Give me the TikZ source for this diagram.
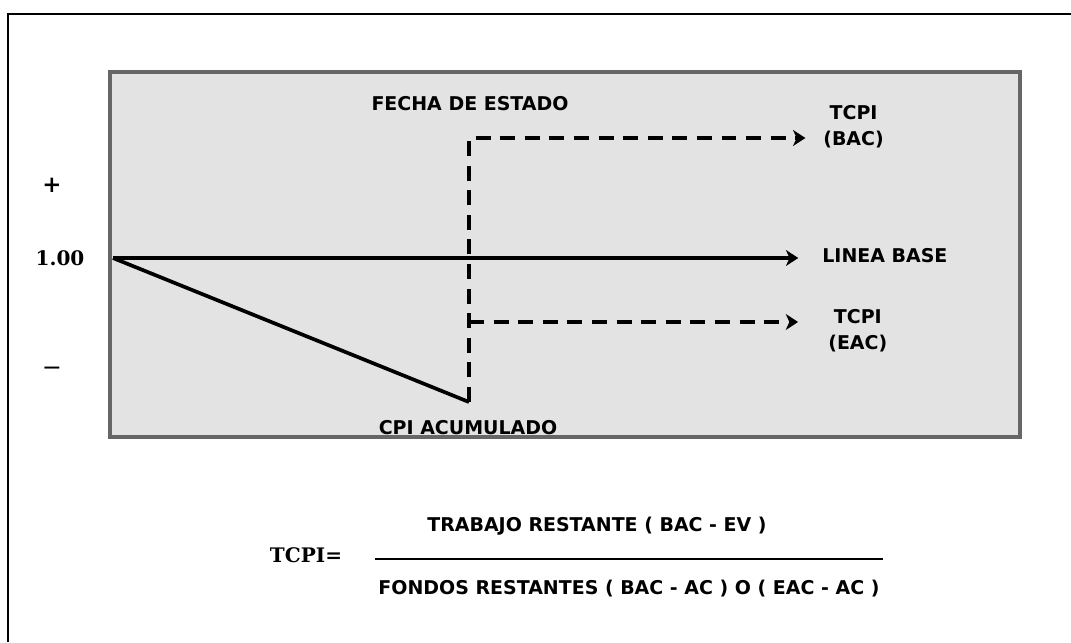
\documentclass[tikz,border=0pt]{standalone}
\usepackage{fontspec}
\setmainfont{DejaVu Sans}
\newfontfamily\valuefont{DejaVu Serif}
\usepackage{tikz}
\usetikzlibrary{arrows.meta,positioning}

\begin{document}
\begin{tikzpicture}[x=0.02cm, y=-0.02cm,
        font=\bfseries\fontsize{10.8}{15}\selectfont,
        >={Stealth[length=7pt,width=9pt,inset=2pt]},
        label/.style={inner sep=0pt, align=center},
        value/.style={inner sep=0pt,
            font=\valuefont\bfseries\fontsize{11.4}{14}\selectfont},
        solidline/.style={line width=2.1pt},
        dashline/.style={line width=1.9pt, dash pattern=on 8.5pt off 5.5pt},
        area/.style={fill=black!11, draw=black!60, line width=2.2pt},
        frame/.style={line width=1.2pt} ]

    \useasboundingbox (0,0) rectangle (1071,642);
    \draw[frame] (8,642) -- (8,14) -- (1071,14);
    \draw[area] (110,72) rectangle (1020,437);

    \node[value, font=\valuefont\bfseries\fontsize{13}{14}\selectfont] (plus)
    at (52,185) {+}; \node[value] (one) at (60,258) {1.00}; \node[value,
    font=\valuefont\bfseries\fontsize{9.5}{10}\selectfont] (minus) at (52,370)
    {—};

    \coordinate (origin) at (113,258); \coordinate (date top) at (469,138);
    \coordinate (date eac) at (469,322); \coordinate (cpi end) at (469,402);

    \node[label] (fecha) at (470,104) {FECHA DE ESTADO}; \node[label,
    anchor=west] (bac) at (823,127) {TCPI\\(BAC)}; \node[label, anchor=west]
    (linea) at (822,256) {LINEA BASE}; \node[label, anchor=west] (eac) at
    (828,331) {TCPI\\(EAC)}; \node[label] (cpi) at (468,428) {CPI ACUMULADO};

    \draw[solidline,->,shorten >=13.5pt] (origin) -- (origin -| linea.west);
    \draw[solidline] (origin) -- (cpi end);

    \draw[dashline,->,shorten >=10pt] (cpi end) -- (date top) -- (date top -|
    bac.west); \draw[dashline,->,shorten >=17pt] (date eac) -- (date eac -|
    eac.west);

    \node[value, font=\valuefont\bfseries\fontsize{11.4}{14}\selectfont]
    (tcpi) at (306,555) {TCPI=}; \coordinate (bar left) at (375,559);
    \coordinate (bar right) at (883,559); \draw[line width=1.6pt] (bar left)
    -- (bar right);
    \node[label] (work) at (597,526) {TRABAJO RESTANTE ( BAC - EV )};
    \node[label] (funds) at (629,589) {FONDOS RESTANTES ( BAC - AC ) O ( EAC
    - AC )};

  \end{tikzpicture}
\end{document}
